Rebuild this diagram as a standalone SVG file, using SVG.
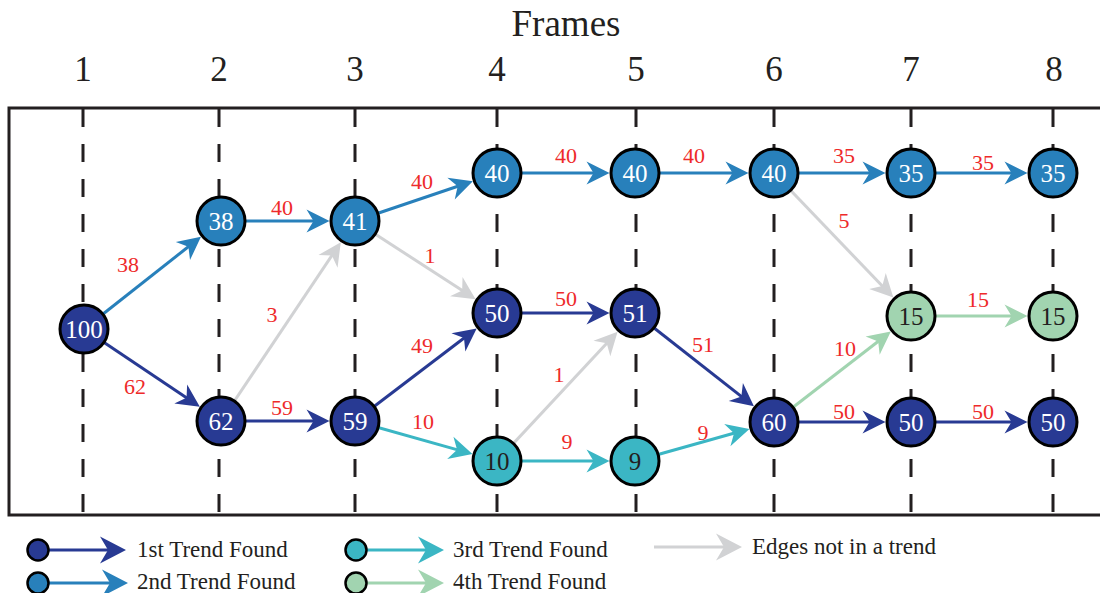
<svg xmlns="http://www.w3.org/2000/svg" width="1100" height="593" viewBox="0 0 1100 593">
  <style>
    .hdr { font-family: "Liberation Serif", "Times New Roman", serif; fill: #231f20; text-anchor: middle; }
    .grid { stroke: #231f20; stroke-width: 3; stroke-dasharray: 18 17; fill: none; }
    .edge { fill: none; stroke-width: 3; }
    .dark { stroke: #283a93; }
    .med { stroke: #2880bb; }
    .teal { stroke: #3bb6c4; }
    .green { stroke: #a1d4b0; }
    .gray { stroke: #d1d2d4; }
    .w { font-family: "Liberation Serif", "Times New Roman", serif; font-size: 22px; fill: #ee2a2a; text-anchor: middle; }
    .node circle { stroke: #000; stroke-width: 3; }
    .node text { font-family: "Liberation Serif", "Times New Roman", serif; font-size: 25px; text-anchor: middle; }
    .nd circle { fill: #283a93; }
    .nm circle { fill: #2880bb; }
    .nt circle { fill: #3bb6c4; }
    .ng circle { fill: #a1d4b0; }
    .nd text, .nm text { fill: #fff; }
    .nt text, .ng text { fill: #231f20; }
    .lg { font-family: "Liberation Serif", "Times New Roman", serif; font-size: 23px; fill: #231f20; }
    .key { stroke: #000; stroke-width: 2.5; }
  </style>
  <defs>
    <path id="head" d="M0,0 L-23,-11.5 L-16,0 L-23,11.5 Z"/>
    <path id="head-lg" d="M0,0 L-26,-13.5 L-18,0 L-26,13.5 Z"/>
    <marker id="ah-dark" viewBox="-25 -14 28 28" refX="-8" refY="0" markerWidth="28" markerHeight="28" markerUnits="userSpaceOnUse" orient="auto">
      <use href="#head" fill="#283a93"/>
    </marker>
    <marker id="ah-med" viewBox="-25 -14 28 28" refX="-8" refY="0" markerWidth="28" markerHeight="28" markerUnits="userSpaceOnUse" orient="auto">
      <use href="#head" fill="#2880bb"/>
    </marker>
    <marker id="ah-teal" viewBox="-25 -14 28 28" refX="-8" refY="0" markerWidth="28" markerHeight="28" markerUnits="userSpaceOnUse" orient="auto">
      <use href="#head" fill="#3bb6c4"/>
    </marker>
    <marker id="ah-green" viewBox="-25 -14 28 28" refX="-8" refY="0" markerWidth="28" markerHeight="28" markerUnits="userSpaceOnUse" orient="auto">
      <use href="#head" fill="#a1d4b0"/>
    </marker>
    <marker id="ah-gray" viewBox="-25 -14 28 28" refX="-8" refY="0" markerWidth="28" markerHeight="28" markerUnits="userSpaceOnUse" orient="auto">
      <use href="#head" fill="#d1d2d4"/>
    </marker>
    <!-- slightly larger heads for the key -->
    <marker id="lh-dark" viewBox="-28 -15 31 30" refX="-8" refY="0" markerWidth="31" markerHeight="30" markerUnits="userSpaceOnUse" orient="auto">
      <use href="#head-lg" fill="#283a93"/>
    </marker>
    <marker id="lh-med" viewBox="-28 -15 31 30" refX="-8" refY="0" markerWidth="31" markerHeight="30" markerUnits="userSpaceOnUse" orient="auto">
      <use href="#head-lg" fill="#2880bb"/>
    </marker>
    <marker id="lh-teal" viewBox="-28 -15 31 30" refX="-8" refY="0" markerWidth="31" markerHeight="30" markerUnits="userSpaceOnUse" orient="auto">
      <use href="#head-lg" fill="#3bb6c4"/>
    </marker>
    <marker id="lh-green" viewBox="-28 -15 31 30" refX="-8" refY="0" markerWidth="31" markerHeight="30" markerUnits="userSpaceOnUse" orient="auto">
      <use href="#head-lg" fill="#a1d4b0"/>
    </marker>
    <marker id="lh-gray" viewBox="-28 -15 31 30" refX="-8" refY="0" markerWidth="31" markerHeight="30" markerUnits="userSpaceOnUse" orient="auto">
      <use href="#head-lg" fill="#d1d2d4"/>
    </marker>
  </defs>

  <rect width="1100" height="593" fill="#fff"/>

  <!-- axis title and frame numbers -->
  <g id="header">
    <text class="hdr" x="566" y="36" font-size="37">Frames</text>
    <text class="hdr" x="83" y="81" font-size="35">1</text>
    <text class="hdr" x="219" y="81" font-size="35">2</text>
    <text class="hdr" x="355" y="81" font-size="35">3</text>
    <text class="hdr" x="497" y="81" font-size="35">4</text>
    <text class="hdr" x="636" y="81" font-size="35">5</text>
    <text class="hdr" x="774" y="81" font-size="35">6</text>
    <text class="hdr" x="911" y="81" font-size="35">7</text>
    <text class="hdr" x="1054" y="81" font-size="35">8</text>
  </g>

  <!-- frame box and per-frame dashed guides -->
  <g id="frame">
    <rect x="9" y="108" width="1100" height="407" fill="none" stroke="#231f20" stroke-width="3"/>
    <line class="grid" x1="83" y1="109" x2="83" y2="514"/>
    <line class="grid" x1="219" y1="109" x2="219" y2="514"/>
    <line class="grid" x1="355" y1="109" x2="355" y2="514"/>
    <line class="grid" x1="497" y1="109" x2="497" y2="514"/>
    <line class="grid" x1="636" y1="109" x2="636" y2="514"/>
    <line class="grid" x1="774" y1="109" x2="774" y2="514"/>
    <line class="grid" x1="911" y1="109" x2="911" y2="514"/>
    <line class="grid" x1="1053" y1="109" x2="1053" y2="514"/>
  </g>

  <!-- edges with their weights -->
  <g id="connectors">
    <path class="edge med" d="M84,329 L194.69,241.74" marker-end="url(#ah-med)"/>
    <path class="edge dark" d="M84,329 L193.19,402.32" marker-end="url(#ah-dark)"/>
    <path class="edge med" d="M221,221 L321.5,221" marker-end="url(#ah-med)"/>
    <path class="edge gray" d="M221,421 L336.35,248.83" marker-end="url(#ah-gray)"/>
    <path class="edge dark" d="M221,421 L321.5,421" marker-end="url(#ah-dark)"/>
    <path class="edge med" d="M355,221 L465.26,183.73" marker-end="url(#ah-med)"/>
    <path class="edge gray" d="M355,221 L468.88,294.79" marker-end="url(#ah-gray)"/>
    <path class="edge dark" d="M355,421 L470.33,333.28" marker-end="url(#ah-dark)"/>
    <path class="edge teal" d="M355,421 L464.76,451.92" marker-end="url(#ah-teal)"/>
    <path class="edge med" d="M497,173 L601.5,173" marker-end="url(#ah-med)"/>
    <path class="edge dark" d="M497,313 L601.5,313" marker-end="url(#ah-dark)"/>
    <path class="edge gray" d="M497,461 L612.15,337.5" marker-end="url(#ah-gray)"/>
    <path class="edge teal" d="M497,461 L601.5,461" marker-end="url(#ah-teal)"/>
    <path class="edge med" d="M635,173 L740.5,173" marker-end="url(#ah-med)"/>
    <path class="edge dark" d="M635,313 L747.64,401.33" marker-end="url(#ah-dark)"/>
    <path class="edge teal" d="M635,461 L741.75,431.05" marker-end="url(#ah-teal)"/>
    <path class="edge med" d="M774,173 L877.5,173" marker-end="url(#ah-med)"/>
    <path class="edge gray" d="M774,173 L887.82,291.81" marker-end="url(#ah-gray)"/>
    <path class="edge green" d="M774,422 L884.5,336.5" marker-end="url(#ah-green)"/>
    <path class="edge dark" d="M774,422 L877.5,422" marker-end="url(#ah-dark)"/>
    <path class="edge med" d="M911,173 L1019.5,173" marker-end="url(#ah-med)"/>
    <path class="edge green" d="M911,316 L1019.5,316" marker-end="url(#ah-green)"/>
    <path class="edge dark" d="M911,422 L1019.5,422" marker-end="url(#ah-dark)"/>

    <text class="w" x="128" y="272">38</text>
    <text class="w" x="135" y="394">62</text>
    <text class="w" x="282" y="215">40</text>
    <text class="w" x="272" y="322">3</text>
    <text class="w" x="282" y="415">59</text>
    <text class="w" x="422" y="189">40</text>
    <text class="w" x="430" y="263">1</text>
    <text class="w" x="422" y="353">49</text>
    <text class="w" x="423" y="429">10</text>
    <text class="w" x="566" y="163">40</text>
    <text class="w" x="566" y="306">50</text>
    <text class="w" x="559" y="382">1</text>
    <text class="w" x="567" y="449">9</text>
    <text class="w" x="694" y="163">40</text>
    <text class="w" x="703" y="352">51</text>
    <text class="w" x="703" y="440">9</text>
    <text class="w" x="844" y="163">35</text>
    <text class="w" x="844" y="228">5</text>
    <text class="w" x="845" y="356">10</text>
    <text class="w" x="844" y="419">50</text>
    <text class="w" x="983" y="170">35</text>
    <text class="w" x="978" y="307">15</text>
    <text class="w" x="983" y="419">50</text>
  </g>

  <!-- nodes -->
  <g id="n1-100" class="node nd"><circle cx="84" cy="329" r="24"/><text x="84" y="338">100</text></g>
  <g id="n2-38" class="node nm"><circle cx="221" cy="221" r="24"/><text x="221" y="230">38</text></g>
  <g id="n2-62" class="node nd"><circle cx="221" cy="421" r="24"/><text x="221" y="430">62</text></g>
  <g id="n3-41" class="node nm"><circle cx="355" cy="221" r="24"/><text x="355" y="230">41</text></g>
  <g id="n3-59" class="node nd"><circle cx="355" cy="421" r="24"/><text x="355" y="430">59</text></g>
  <g id="n4-40" class="node nm"><circle cx="497" cy="173" r="24"/><text x="497" y="182">40</text></g>
  <g id="n4-50" class="node nd"><circle cx="497" cy="313" r="24"/><text x="497" y="322">50</text></g>
  <g id="n4-10" class="node nt"><circle cx="497" cy="461" r="24"/><text x="497" y="470">10</text></g>
  <g id="n5-40" class="node nm"><circle cx="635" cy="173" r="24"/><text x="635" y="182">40</text></g>
  <g id="n5-51" class="node nd"><circle cx="635" cy="313" r="24"/><text x="635" y="322">51</text></g>
  <g id="n5-9" class="node nt"><circle cx="635" cy="461" r="24"/><text x="635" y="470">9</text></g>
  <g id="n6-40" class="node nm"><circle cx="774" cy="173" r="24"/><text x="774" y="182">40</text></g>
  <g id="n6-60" class="node nd"><circle cx="774" cy="422" r="24"/><text x="774" y="431">60</text></g>
  <g id="n7-35" class="node nm"><circle cx="911" cy="173" r="24"/><text x="911" y="182">35</text></g>
  <g id="n7-15" class="node ng"><circle cx="911" cy="316" r="24"/><text x="911" y="325">15</text></g>
  <g id="n7-50" class="node nd"><circle cx="911" cy="422" r="24"/><text x="911" y="431">50</text></g>
  <g id="n8-35" class="node nm"><circle cx="1053" cy="173" r="24"/><text x="1053" y="182">35</text></g>
  <g id="n8-15" class="node ng"><circle cx="1053" cy="316" r="24"/><text x="1053" y="325">15</text></g>
  <g id="n8-50" class="node nd"><circle cx="1053" cy="422" r="24"/><text x="1053" y="431">50</text></g>

  <!-- legend -->
  <g id="legend">
    <path class="edge dark" d="M38,550 L118,550" marker-end="url(#lh-dark)"/>
    <circle class="key" cx="38" cy="550" r="10.5" fill="#283a93"/>
    <text class="lg" x="137" y="557">1st Trend Found</text>

    <path class="edge med" d="M38,583 L120,583" marker-end="url(#lh-med)"/>
    <circle class="key" cx="38" cy="583" r="10.5" fill="#2880bb"/>
    <text class="lg" x="137" y="589">2nd Trend Found</text>

    <path class="edge teal" d="M356,550 L436,550" marker-end="url(#lh-teal)"/>
    <circle class="key" cx="356" cy="550" r="10.5" fill="#3bb6c4"/>
    <text class="lg" x="453" y="557">3rd Trend Found</text>

    <path class="edge green" d="M356,583 L436,583" marker-end="url(#lh-green)"/>
    <circle class="key" cx="356" cy="583" r="10.5" fill="#a1d4b0"/>
    <text class="lg" x="453" y="589">4th Trend Found</text>

    <path class="edge gray" d="M654,547 L734,547" marker-end="url(#lh-gray)"/>
    <text class="lg" x="752" y="554">Edges not in a trend</text>
  </g>
</svg>
